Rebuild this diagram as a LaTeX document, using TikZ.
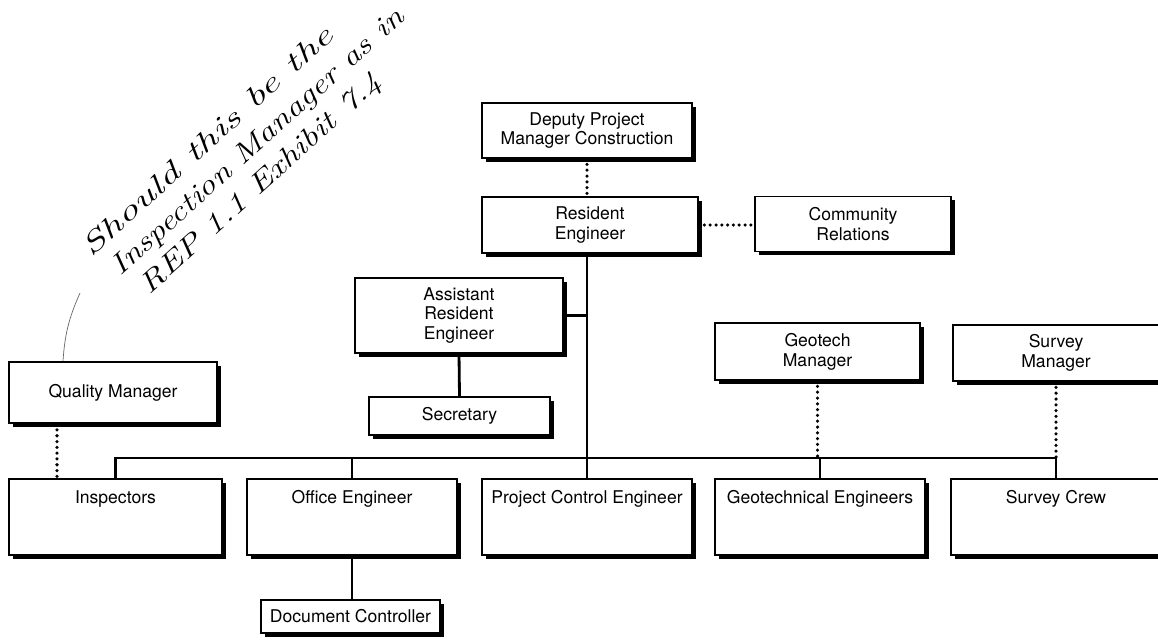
\documentclass[tikz,border=0pt]{standalone}
\usepackage{fontspec}
\newfontfamily\chartfont{TeX Gyre Heros}
\usepackage{tikz}
\usetikzlibrary{shadows}

\begin{document}
\begin{tikzpicture}[
  box/.style={draw,line width=0.7pt,fill=white,align=center,inner sep=3pt,
    font=\chartfont\fontsize{10}{11.3}\selectfont,
    drop shadow={shadow xshift=0.07cm,shadow yshift=-0.07cm,fill=black,opacity=1}},
  low/.style={box,minimum width=4.2cm,inner ysep=0.2cm,text height=0.28cm,text depth=0.84cm},
  note/.style={rotate=42,anchor=base west,inner sep=0pt,font=\itshape\fontsize{16}{18}\selectfont},
  tie/.style={line width=1.6pt},
  dotline/.style={line width=2pt,line cap=round,dash pattern=on 0pt off 3.3pt}
]
\fill[white] (0,0) rectangle (23.16,-12.78);
\useasboundingbox (0,0) rectangle (23.16,-12.78);

\node[box,minimum width=4.2cm,minimum height=1.1cm] (dpm) at (11.74,-2.61) {Deputy Project\\Manager Construction};
\node[box,minimum width=4.32cm,minimum height=1.12cm] (re) at (11.80,-4.50) {Resident\\Engineer};
\node[box,minimum width=3.92cm,minimum height=1.1cm] (cr) at (17.06,-4.48) {Community\\Relations};
\node[box,minimum width=4.16cm,minimum height=1.5cm] (are) at (9.18,-6.31) {Assistant\\Resident\\Engineer};
\node[box,minimum width=3.62cm,minimum height=0.76cm] (sec) at (9.19,-8.32) {Secretary};
\node[box,line width=1.3pt,minimum width=4.16cm,minimum height=1.22cm] (qm) at (2.26,-7.85) {Quality Manager};
\node[box,minimum width=4.1cm,minimum height=1.14cm] (gm) at (16.35,-7.03) {Geotech\\Manager};
\node[box,minimum width=4.12cm,minimum height=1.12cm] (sm) at (21.12,-7.06) {Survey\\Manager};

\node[low,minimum width=4.26cm] (insp) at (2.31,-10.34) {Inspectors};
\node[low] (oe) at (7.04,-10.34) {Office Engineer};
\node[low] (pce) at (11.74,-10.34) {Project Control Engineer};
\node[low] (ge) at (16.40,-10.34) {Geotechnical Engineers};
\node[low] (sc) at (21.12,-10.34) {Survey Crew};
\node[box,minimum width=3.58cm,minimum height=0.66cm] (dc) at (7.01,-12.33) {Document Controller};

% handwritten remark
\node[note] (note1) at (1.82,-5.155) {\scalebox{1.55}[1]{Should this be the}};
\node[note] (note2) at (2.40,-5.54) {\scalebox{1.26}[1]{Inspection Manager as in}};
\node[note] (note3) at (2.98,-5.905) {\scalebox{1.29}[1]{REP 1.1 Exhibit 7.4}};

\coordinate (bus) at (0,-9.16);
\coordinate (qmdot) at ([xshift=-1.12cm]qm.south);
\coordinate (tip) at (1.60,-5.86);
\coordinate (qmtop) at ([xshift=-1.0cm]qm.north);

\draw[tie] (insp.north) -- (insp.north |- bus) -- (sc.north |- bus) -- (sc.north);
\draw[tie] (oe.north) -- (oe.north |- bus);
\draw[tie] (ge.north) -- (ge.north |- bus);
\draw[tie] (pce.north |- re.south) -- (pce.north);
\draw[tie] (are.east) -- (are.east -| pce.north);
\draw[tie] (are.south) -- (sec.north);
\draw[tie] (oe.south) -- (oe.south |- dc.north);
\draw[dotline] (dpm.south) -- (dpm.south |- re.north);
\draw[dotline] (re.east) -- (re.east -| cr.west);
\draw[dotline] (gm.south) -- (gm.south |- bus);
\draw[dotline] (sm.south) -- (sm.south |- bus);
\draw[dotline] (qmdot) -- (qmdot |- insp.north);
\draw[black!60,line width=0.4pt] (tip) to[bend right=10] (qmtop);

\end{tikzpicture}
\end{document}
